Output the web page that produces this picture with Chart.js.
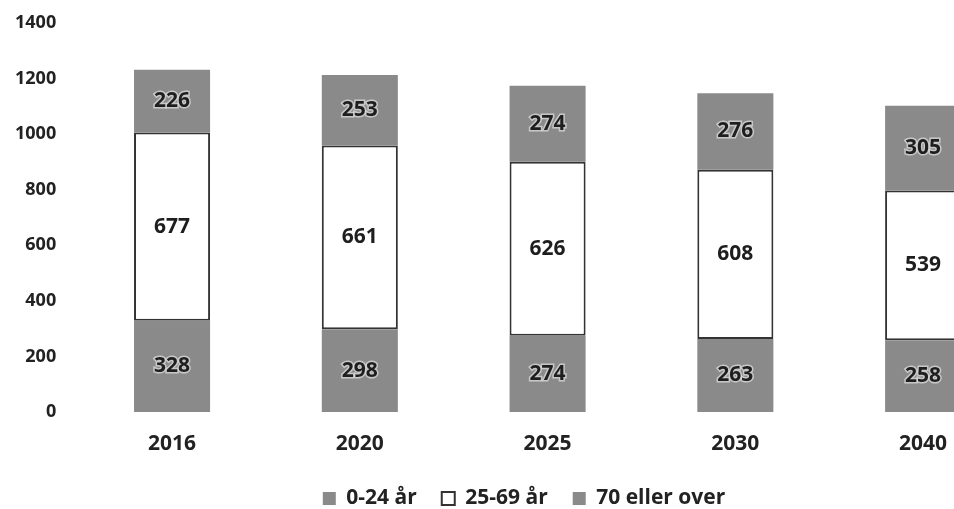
<!DOCTYPE html>
<html>
<head>
<meta charset="utf-8">
<script src="https://cdn.jsdelivr.net/npm/chart.js@4.4.0/dist/chart.umd.min.js"></script>
<style>
html,body{margin:0;padding:0;background:#fff;overflow:hidden;}
#wrap{width:954px;height:509px;overflow:hidden;position:relative;}
#box{width:1050px;height:519px;position:absolute;left:0;top:-10px;}
</style>
</head>
<body>
<div id="wrap"><div id="box"><canvas id="c"></canvas></div></div>
<script>
const categories = ['2016', '2020', '2025', '2030', '2040'];
const young = [328, 298, 274, 263, 258];
const middle = [677, 661, 626, 608, 539];
const old = [226, 253, 274, 276, 305];
const seriesNames = ['0-24 år', '25-69 år', '70 eller over'];
const yTicks = [0, 200, 400, 600, 800, 1000, 1200, 1400];

const FONT = '"Open Sans", "DejaVu Sans", sans-serif';
const GRAY = '#8a8a8a';

const labelPlugin = {
  id: 'segLabels',
  afterDatasetsDraw(chart) {
    const ctx = chart.ctx;
    ctx.save();
    ctx.font = 'bold 21px ' + FONT;
    ctx.textAlign = 'center';
    ctx.textBaseline = 'middle';
    chart.data.datasets.forEach((ds, i) => {
      const meta = chart.getDatasetMeta(i);
      meta.data.forEach((el, j) => {
        const cy = (el.y + el.base) / 2;
        const txt = String(ds.data[j]);
        if (i !== 1) {
          ctx.lineWidth = 3;
          ctx.strokeStyle = 'rgba(225,225,225,0.7)';
          ctx.strokeText(txt, el.x, cy);
        }
        ctx.fillStyle = '#1e1e1e';
        ctx.fillText(txt, el.x, cy);
      });
    });
    ctx.restore();
  }
};

const legendShift = {
  id: 'legendShift',
  afterLayout(chart) {
    if (chart.legend) { chart.legend.left += 19; chart.legend.right += 19; }
  }
};

new Chart(document.getElementById('c'), {
  type: 'bar',
  data: {
    labels: categories,
    datasets: [
      { label: seriesNames[0], data: young, backgroundColor: GRAY, borderColor: GRAY, borderWidth: 0, borderSkipped: false },
      { label: seriesNames[1], data: middle, backgroundColor: '#ffffff', borderColor: '#333333', borderWidth: 2, borderSkipped: false },
      { label: seriesNames[2], data: old, backgroundColor: GRAY, borderColor: GRAY, borderWidth: 0, borderSkipped: false }
    ]
  },
  options: {
    responsive: true,
    maintainAspectRatio: false,
    animation: false,
    layout: { padding: { left: -7, right: 33, top: 12, bottom: -10 } },
    datasets: { bar: { categoryPercentage: 1.0, barPercentage: 0.405 } },
    scales: {
      x: {
        stacked: true,
        grid: { display: false, drawTicks: false },
        border: { display: false },
        ticks: { color: '#222', font: { family: FONT, size: 21, weight: 'bold' }, padding: 19 },
        afterFit(scale) { scale.height = 51; }
      },
      y: {
        stacked: true,
        min: 0, max: 1400,
        grid: { display: false, drawTicks: false },
        border: { display: false },
        afterBuildTicks(scale) { scale.ticks = yTicks.map(v => ({ value: v })); },
        ticks: { color: '#222', font: { family: FONT, size: 18, weight: 'bold' }, padding: 22, callback: (v) => String(v) }
      }
    },
    plugins: {
      legend: {
        position: 'bottom',
        labels: {
          color: '#222',
          font: { family: FONT, size: 21, weight: 'bold' },
          boxWidth: 13, boxHeight: 13, padding: 25
        }
      },
      tooltip: { enabled: false }
    }
  },
  plugins: [labelPlugin, legendShift]
});
</script>
</body>
</html>
